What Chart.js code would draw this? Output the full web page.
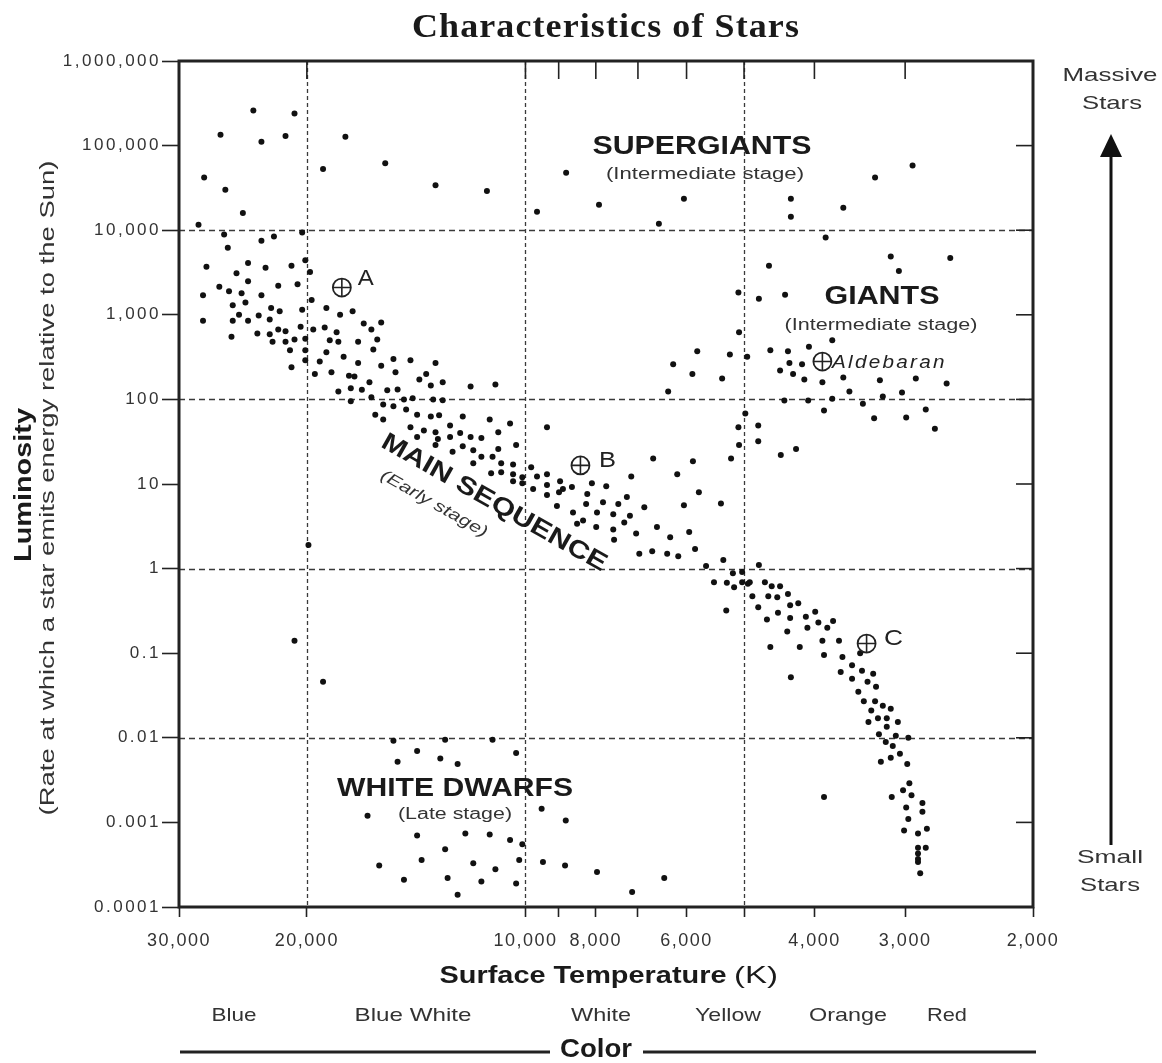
<!DOCTYPE html>
<html>
<head>
<meta charset="utf-8">
<script src="https://cdn.jsdelivr.net/npm/chart.js@4.4.1/dist/chart.umd.min.js"></script>
<style>
  html, body { margin: 0; padding: 0; background: #ffffff; }
  canvas { display: block; }
</style>
</head>
<body>
<canvas id="c" width="1162" height="1063"></canvas>
<script>
// ---------- DATA ----------
const chartTitle = 'Characteristics of Stars';

// Surface temperature (K) of each star
const starT = [
  23700,20800,26300,23100,21400,17700,15600,19000,13300,27700,25900,24500,28200,26000,22200,20300,23100,25700,27500,24100,
  25000,22800,21000,20100,19800,24100,21900,20600,26400,25600,24600,27800,23100,25300,24300,22400,21800,20300,19700,18800,
  18000,17300,24800,25300,24100,23300,22500,27800,16700,16300,15800,21900,21400,20400,19600,18900,18200,25400,23400,22500,
  22300,21400,20800,20100,18600,18100,17000,16000,21100,20100,18800,17800,16200,21000,20100,19200,17000,19500,18500,17500,
  17200,15800,15200,15100,14400,13300,16400,18100,17400,16800,15500,15000,14000,13700,13500,13000,17400,16300,15700,15200,
  14700,14300,13400,13000,16100,15700,14600,14100,13500,13150,12200,14400,13800,13300,12700,12300,14100,13200,12700,13300,
  12600,12200,19900,20800,19000,15200,14100,12900,15000,13100,12400,16500,14100,12100,12900,15900,13900,14700,12800,12400,
  11100,10300,9500,8800,11200,10500,10100,11800,11000,10200,9460,8820,7970,6440,11500,10300,7130,11300,9640,8790,
  7920,6550,6050,5090,5080,2930,3300,3650,4310,4310,3860,3140,3060,2600,4620,4770,4390,3780,5800,5230,
  4950,6260,5890,5360,6360,11900,11000,11200,10500,9340,11900,11500,10900,10300,11800,10900,11500,11100,11800,10800,
  10400,9820,11150,10800,10400,10100,9640,9340,10400,10100,9760,9340,8960,8880,8630,9340,8990,9050,8100,7740,
  8220,8250,7820,7450,7250,7150,6670,8600,8330,8490,7970,7570,7180,7310,6860,7990,7570,7550,7040,6590,
  6180,5880,5770,6050,5380,5210,6320,5950,6970,6690,6380,6160,5840,5640,5340,5180,5030,5500,5280,5160,
  5030,4940,5290,5090,5080,4980,4600,4350,4070,4330,4160,4460,4280,4130,3900,3650,3580,3250,3220,3030,
  2900,2630,4400,4080,3780,3430,3880,3310,2990,2810,2730,4780,4780,4450,4240,4770,4910,4680,4580,4460,
  4870,4630,4500,4350,4780,4320,4210,4490,4650,4320,4110,3990,3950,3770,4090,3840,4600,4360,4190,3900,
  3700,3880,3660,3460,4310,3550,3680,3440,3320,3550,3380,3290,3480,3420,3300,3220,3140,3340,3270,3180,
  3370,3070,3180,3260,3090,2970,3190,3120,3050,3140,3240,2980,2960,3020,2940,3130,2840,2990,2840,2970,
  2800,3010,2880,2880,2810,2880,2880,2880,2860,3880
];

// Luminosity (relative to the Sun) of each star
const starL = [
  260000,240000,134000,111000,130000,127000,62000,53000,34000,42000,30000,16000,11600,8900,8400,9400,7500,6200,3700,4100,
  3100,3600,3800,4400,3200,2500,2200,2300,2150,1900,1800,1700,1700,1300,1400,1200,1100,1150,1500,1200,
  1000,1100,1000,850,850,980,880,850,790,670,810,670,640,720,670,710,620,550,600,590,
  480,480,510,520,500,480,480,510,380,380,360,320,390,240,290,280,270,200,210,190,
  187,250,300,210,290,270,160,124,135,130,128,131,172,200,146,160,95,106,87,83,
  100,103,100,98,66,58,76,66,63,65,63,47,43,41,49,40,36,34,36,29,
  24,28,1.9,0.14,0.046,0.0092,0.007,0.0095,0.0052,0.0057,0.0049,0.0012,0.0007,0.00074,0.00048,0.00031,0.00036,0.00021,0.00022,0.00014,
  0.0095,0.0066,0.00145,0.00105,0.00072,0.00062,0.00055,0.00033,0.00028,0.00036,0.00034,0.00031,0.00026,0.00022,0.0002,0.00019,0.00015,29000,16500,47600,
  20000,11900,23500,1830,620,58000,42000,18400,23500,14400,8200,4900,3300,4700,3800,1550,1730,500,370,340,
  320,260,200,177,124,142,150,58,52,47,36,35,41,29,25,26,21,21,17.6,17.6,
  17,15.8,13.4,13.8,13,12,12.3,13,10.8,10.2,8.7,9.7,10.8,8.7,9.2,7.4,8.0,5.5,10.2,9.4,
  7.6,5.8,6.1,5.8,7.0,12.3,20,4.6,3.7,3.4,4.6,4.4,4.2,3.5,5.3,3.1,2.9,2.2,2.6,3.1,
  13,18.6,8.0,5.6,5.9,20,2.35,2.7,1.5,1.6,1.5,1.4,1.7,1.07,1.26,0.88,0.91,0.69,0.68,0.6,
  0.69,0.66,0.32,47,29,68,380,370,420,270,260,220,200,172,160,182,124,168,108,121,
  177,154,97,97,102,89,74,60,61,76,45,49,32,22,26,1.1,0.69,0.69,0.62,0.62,
  0.47,0.47,0.46,0.5,0.35,0.37,0.39,0.30,0.25,0.26,0.27,0.31,0.23,0.24,0.20,0.20,0.118,0.18,0.118,0.14,
  0.14,0.095,0.09,0.1,0.052,0.072,0.06,0.062,0.057,0.05,0.046,0.040,0.035,0.027,0.027,0.024,0.022,0.021,0.017,0.017,
  0.0154,0.0154,0.0135,0.011,0.0106,0.010,0.0089,0.0080,0.0065,0.0058,0.0052,0.0049,0.0029,0.0024,0.0021,0.0020,0.0017,0.0015,0.00134,0.0011,
  0.00084,0.0008,0.00074,0.0005,0.0005,0.00043,0.00037,0.00034,0.00025,0.002
];

// Named reference stars
const markerNames = ['A', 'B', 'C', 'Aldebaran'];
const markerT = [17900, 8400, 3390, 3900];
const markerL = [2100, 16.6, 0.13, 280];

// Axis ticks
const xTickValues = [30000, 20000, 10000, 9000, 8000, 7000, 6000, 5000, 4000, 3000, 2000];
const xTickLabels = ['30,000', '20,000', '10,000', '', '8,000', '', '6,000', '', '4,000', '3,000', '2,000'];
const yTickValues = [1000000, 100000, 10000, 1000, 100, 10, 1, 0.1, 0.01, 0.001, 0.0001];
const yTickLabels = ['1,000,000', '100,000', '10,000', '1,000', '100', '10', '1', '0.1', '0.01', '0.001', '0.0001'];
const xGridValues = [20000, 10000, 5000];
const yGridValues = [10000, 100, 1, 0.01];

// Colour bands under the temperature axis
const colorNames = ['Blue', 'Blue White', 'White', 'Yellow', 'Orange', 'Red'];

// ---------- DRAWING ----------
const SANS = "'Liberation Sans', Arial, Helvetica, sans-serif";
const INK = '#1a1a1a';

function drawText(ctx, txt, x, y, o) {
  ctx.save();
  ctx.translate(x, y);
  if (o.rot) ctx.rotate(o.rot * Math.PI / 180);
  ctx.font = (o.style || 'normal') + ' ' + (o.weight || 'normal') + ' ' + o.size + 'px ' + (o.family || SANS);
  if ('letterSpacing' in ctx) ctx.letterSpacing = (o.spacing || 0) + 'px';
  const w = ctx.measureText(txt).width;
  const sx = o.width ? o.width / w : 1;
  ctx.scale(sx, 1);
  ctx.textAlign = 'center';
  ctx.textBaseline = 'middle';
  ctx.fillStyle = o.color || INK;
  ctx.fillText(txt, 0, 0);
  ctx.restore();
}

function line(ctx, x1, y1, x2, y2) {
  ctx.beginPath(); ctx.moveTo(x1, y1); ctx.lineTo(x2, y2); ctx.stroke();
}

const framePlugin = {
  id: 'frame',
  beforeDatasetsDraw(chart) {
    const { ctx, chartArea: a, scales: { x, y } } = chart;
    ctx.save();
    ctx.strokeStyle = '#3a3a3a';
    ctx.lineWidth = 1.3;
    ctx.setLineDash([4, 3]);
    xGridValues.forEach(v => { const p = Math.round(x.getPixelForValue(v)) + 0.5; line(ctx, p, a.top, p, a.bottom); });
    ctx.setLineDash([6, 4]);
    yGridValues.forEach(v => { const p = Math.round(y.getPixelForValue(v)) + 0.5; line(ctx, a.left, p, a.right, p); });
    ctx.setLineDash([]);
    ctx.strokeStyle = '#222';
    ctx.lineWidth = 1.6;
    xTickValues.forEach(v => { const p = x.getPixelForValue(v); line(ctx, p, a.top, p, a.top + 18); });
    yTickValues.forEach(v => { const p = y.getPixelForValue(v); line(ctx, a.right - 17, p, a.right, p); });
    ctx.lineWidth = 3;
    ctx.strokeStyle = '#222';
    ctx.strokeRect(a.left, a.top, a.right - a.left, a.bottom - a.top);
    ctx.restore();
  },
  afterDraw(chart) {
    const { ctx, scales: { x, y } } = chart;
    // Title
    drawText(ctx, chartTitle, 606, 28, { size: 33, weight: 'bold', family: "'Liberation Serif', 'Times New Roman', serif", width: 388, spacing: 1 });

    // Region labels
    drawText(ctx, 'SUPERGIANTS', 702, 147, { size: 25, weight: 'bold', width: 219 });
    drawText(ctx, '(Intermediate stage)', 705, 175, { size: 16, width: 198, color: '#333' });
    drawText(ctx, 'GIANTS', 882, 297, { size: 25, weight: 'bold', width: 115 });
    drawText(ctx, '(Intermediate stage)', 881, 326, { size: 16, width: 193, color: '#333' });
    drawText(ctx, 'WHITE DWARFS', 455, 789, { size: 25, weight: 'bold', width: 236 });
    drawText(ctx, '(Late stage)', 455, 815, { size: 16, width: 114, color: '#333' });
    drawText(ctx, 'MAIN SEQUENCE', 494, 503, { size: 25, weight: 'bold', width: 255, rot: 29.5 });
    drawText(ctx, '(Early stage)', 434, 504, { size: 16, style: 'italic', width: 120, rot: 29.5, color: '#333' });

    // Named stars labels
    const offs = [[24, -9, 16, 22], [27, -4, 17, 22], [27, -5, 19, 22]];
    for (let i = 0; i < 3; i++) {
      const px = x.getPixelForValue(markerT[i]) + offs[i][0];
      const py = y.getPixelForValue(markerL[i]) + offs[i][1];
      drawText(ctx, markerNames[i], px, py, { size: offs[i][3], width: offs[i][2], color: '#222' });
    }
    {
      const px = x.getPixelForValue(markerT[3]) + 10 + 57;
      const py = y.getPixelForValue(markerL[3]) + 1;
      drawText(ctx, markerNames[3], px, py, { size: 18, style: 'italic', width: 115, spacing: 2, color: '#222' });
    }

    // Axis titles
    drawText(ctx, 'Surface Temperature', 583, 976, { size: 24, weight: 'bold', width: 287 });
    drawText(ctx, '(K)', 756, 976, { size: 24, width: 44 });
    drawText(ctx, 'Luminosity', 24, 485, { size: 24, weight: 'bold', width: 154, rot: -90 });
    drawText(ctx, '(Rate at which a star emits energy relative to the Sun)', 48, 488, { size: 20, width: 655, rot: -90, color: '#333' });

    // Colour row
    const cx = [234, 413, 601, 728, 848, 947];
    const cw = [45, 117, 60, 66, 78, 40];
    colorNames.forEach((c, i) => drawText(ctx, c, cx[i], 1016, { size: 19, width: cw[i], color: '#333' }));
    drawText(ctx, 'Color', 596, 1050, { size: 25, weight: 'bold', width: 72 });
    ctx.save();
    ctx.strokeStyle = '#222';
    ctx.lineWidth = 3;
    line(ctx, 180, 1052, 550, 1052);
    line(ctx, 643, 1052, 1036, 1052);
    ctx.restore();

    // Right side arrow
    drawText(ctx, 'Massive', 1110, 76, { size: 19, width: 95, color: '#333' });
    drawText(ctx, 'Stars', 1112, 104, { size: 19, width: 60, color: '#333' });
    drawText(ctx, 'Small', 1110, 858, { size: 19, width: 66, color: '#333' });
    drawText(ctx, 'Stars', 1110, 886, { size: 19, width: 60, color: '#333' });
    ctx.save();
    ctx.strokeStyle = '#111';
    ctx.fillStyle = '#111';
    ctx.lineWidth = 3;
    line(ctx, 1111, 845, 1111, 152);
    ctx.beginPath();
    ctx.moveTo(1111, 134); ctx.lineTo(1100, 157); ctx.lineTo(1122, 157); ctx.closePath(); ctx.fill();
    ctx.restore();
  }
};

const spacingPlugin = {
  id: 'spacing',
  afterUpdate(chart) {
    [['x', 1.5], ['y', 2.5]].forEach(([id, sp]) => {
      const s = chart.scales[id];
      if (!s || s._spPatched) return;
      const orig = s.drawLabels.bind(s);
      s.drawLabels = function (area) {
        const c = this.ctx; c.save();
        if ('letterSpacing' in c) c.letterSpacing = sp + 'px';
        orig(area); c.restore();
      };
      s._spPatched = true;
    });
  }
};

const stars = starT.map((t, i) => ({ x: t, y: starL[i] }));
const markers = markerT.map((t, i) => ({ x: t, y: markerL[i] }));

new Chart(document.getElementById('c'), {
  type: 'scatter',
  data: {
    datasets: [
      { label: 'Named stars (cross)', data: markers, pointStyle: 'cross', pointRadius: 9, borderColor: '#222', borderWidth: 1.6, order: 0 },
      { label: 'Named stars', data: markers, pointStyle: 'circle', pointRadius: 9, backgroundColor: '#ffffff', borderColor: '#222', borderWidth: 1.8, order: 1 },
      { label: 'Stars', data: stars, pointRadius: 3, backgroundColor: '#111', borderWidth: 0, order: 2 }
    ]
  },
  options: {
    responsive: false,
    animation: false,
    devicePixelRatio: 1,
    layout: { padding: { top: 61, right: 129, left: 0, bottom: 0 } },
    plugins: { legend: { display: false }, tooltip: { enabled: false }, title: { display: false } },
    scales: {
      x: {
        type: 'logarithmic', reverse: true, min: 2000, max: 30000,
        afterBuildTicks: s => { s.ticks = xTickValues.map(v => ({ value: v })); },
        afterFit: s => { s.height = 156; },
        ticks: { autoSkip: false, maxRotation: 0, minRotation: 0, padding: 13, color: '#333',
                 font: { family: "'Liberation Sans Narrow', 'Liberation Sans', Arial, sans-serif", size: 18 },
                 callback: (v, i) => xTickLabels[i] },
        grid: { drawOnChartArea: false, drawTicks: true, tickLength: 10, tickColor: '#222', tickWidth: 1.6 },
        border: { display: false }
      },
      y: {
        type: 'logarithmic', min: 0.0001, max: 1000000,
        afterBuildTicks: s => { s.ticks = yTickValues.map(v => ({ value: v })); },
        afterFit: s => { s.width = 179; },
        ticks: { autoSkip: false, padding: 1, color: '#333',
                 font: { family: SANS, size: 17 },
                 callback: (v, i) => yTickLabels[i] },
        grid: { drawOnChartArea: false, drawTicks: true, tickLength: 17, tickColor: '#222', tickWidth: 1.6 },
        border: { display: false }
      }
    }
  },
  plugins: [framePlugin, spacingPlugin]
});
</script>
</body>
</html>
